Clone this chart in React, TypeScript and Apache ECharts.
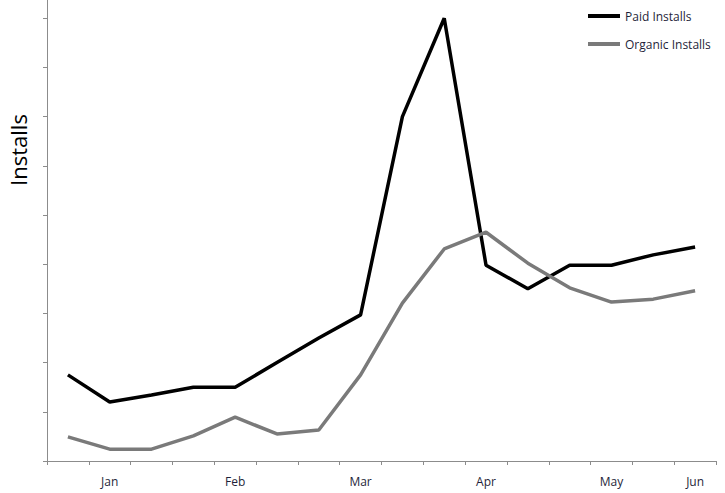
import React, { useEffect, useRef } from "react";
import * as echarts from "echarts";

const categories = ["", "Jan", "", "", "Feb", "", "", "Mar", "", "", "Apr", "", "", "May", "", "Jun"];
const paidInstalls = [1.75, 1.2, 1.34, 1.5, 1.5, 2.0, 2.5, 2.97, 7.0, 9.0, 3.98, 3.5, 3.98, 3.98, 4.19, 4.35];
const organicInstalls = [0.49, 0.24, 0.24, 0.51, 0.89, 0.55, 0.63, 1.75, 3.21, 4.31, 4.65, 4.02, 3.52, 3.23, 3.29, 3.46];
const yTickValues = [0, 1, 2, 3, 4, 5, 6, 7, 8, 9];
const yMin = 0;
const yMax = 9.37;

const FONT = "'Open Sans', 'Liberation Sans', sans-serif";

export default function App() {
  const ref = useRef<HTMLDivElement>(null);
  useEffect(() => {
    document.body.style.margin = "0";
    if (!ref.current) return;
    const chart = echarts.init(ref.current, undefined, { renderer: "svg" });
    chart.setOption({
      animation: false,
      backgroundColor: "#ffffff",
      grid: { left: 47, right: 9, top: 0, bottom: 32, containLabel: false },
      legend: {
        orient: "vertical",
        left: 583,
        top: 5,
        icon: "rect",
        itemWidth: 32,
        itemHeight: 4,
        itemGap: 16,
        textStyle: { fontFamily: FONT, fontSize: 12, color: "#1f1f3a" },
        data: ["Paid Installs", "Organic Installs"],
      },
      graphic: [
        {
          type: "text",
          x: 7,
          y: 150,
          rotation: Math.PI / 2,
          style: {
            text: "Installs",
            fontFamily: FONT,
            fontSize: 22,
            fill: "#000",
            align: "center",
            verticalAlign: "top",
          },
        },
      ],
      xAxis: {
        type: "category",
        data: categories,
        boundaryGap: true,
        axisLine: { lineStyle: { color: "#8c8c8c", width: 1 } },
        axisTick: { show: true, interval: 0, length: 4, lineStyle: { color: "#8c8c8c" } },
        axisLabel: { interval: 0, margin: 14, fontFamily: FONT, fontSize: 12, color: "#1f1f3a" },
        splitLine: { show: false },
      },
      yAxis: {
        type: "value",
        min: yMin,
        max: yMax,
        axisLine: { show: true, lineStyle: { color: "#8c8c8c", width: 1 } },
        axisTick: { show: true, length: 4, customValues: yTickValues, lineStyle: { color: "#8c8c8c" } },
        axisLabel: { show: false },
        splitLine: { show: false },
      },
      series: [
        {
          name: "Paid Installs",
          type: "line",
          data: paidInstalls,
          symbol: "none",
          lineStyle: { color: "#000000", width: 3.5 },
          itemStyle: { color: "#000000" },
        },
        {
          name: "Organic Installs",
          type: "line",
          data: organicInstalls,
          symbol: "none",
          lineStyle: { color: "#7a7a7a", width: 3.5 },
          itemStyle: { color: "#7a7a7a" },
        },
      ],
    });
    return () => chart.dispose();
  }, []);
  return <div ref={ref} style={{ width: 725, height: 493 }} />;
}
